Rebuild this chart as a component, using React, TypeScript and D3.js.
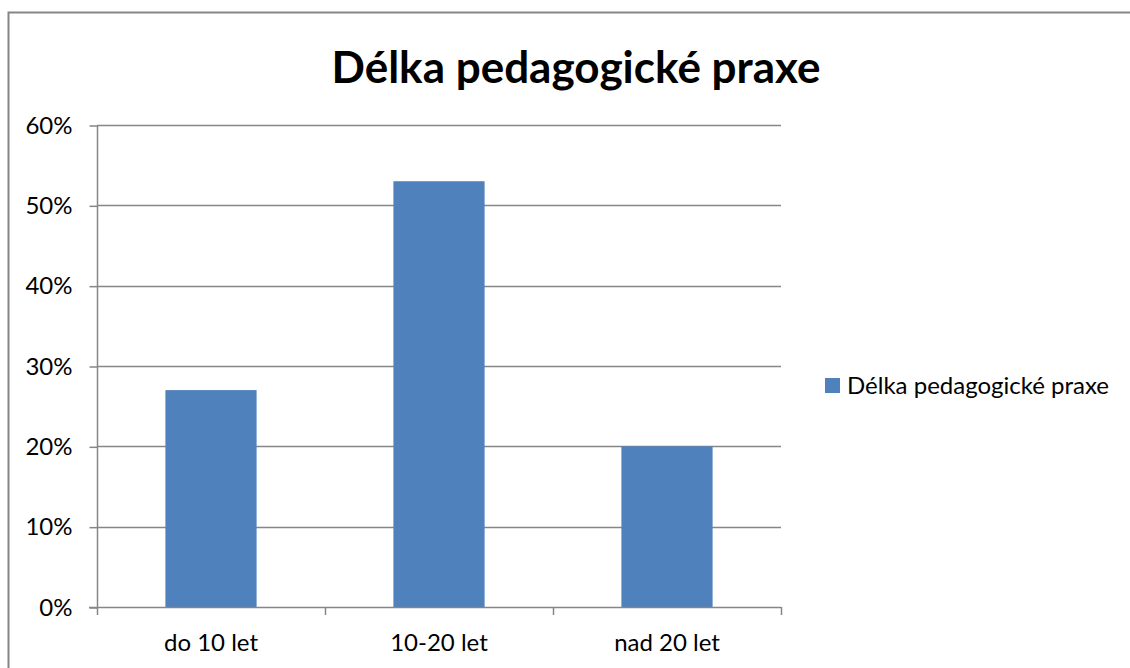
import React, { useEffect, useRef } from 'react';
import * as d3 from 'd3';

const categories = ['do 10 let', '10-20 let', 'nad 20 let'];
const values = [0.27, 0.53, 0.2];
const yTicks = [0, 0.1, 0.2, 0.3, 0.4, 0.5, 0.6];
const title = 'Délka pedagogické praxe';
const seriesName = 'Délka pedagogické praxe';

const W = 1130;
const H = 668;
const FONT = 'Lato, "Open Sans", sans-serif';

const App = () => {
  const svgRef = useRef<SVGSVGElement>(null);

  useEffect(() => {
    const svg = d3.select(svgRef.current);
    svg.selectAll('*').remove();

    // outer chart border
    svg.append('rect')
      .attr('x', 8.5).attr('y', 12.5)
      .attr('width', W).attr('height', H)
      .attr('fill', 'white')
      .attr('stroke', '#868686').attr('stroke-width', 2);

    const x = d3.scaleBand().domain(categories).range([97, 781]).paddingInner(0.6).paddingOuter(0.3);
    const y = d3.scaleLinear().domain([0, 0.6]).range([607, 125]);

    const g = svg.append('g');

    // gridlines
    g.selectAll('.grid')
      .data(yTicks.slice(1))
      .enter().append('line')
      .attr('x1', 97).attr('x2', 781)
      .attr('y1', d => Math.round(y(d)) + 0.5).attr('y2', d => Math.round(y(d)) + 0.5)
      .attr('stroke', '#868686').attr('stroke-width', 1.5);

    // bars
    g.selectAll('.bar')
      .data(values)
      .enter().append('rect')
      .attr('x', (d, i) => x(categories[i])!)
      .attr('width', x.bandwidth())
      .attr('y', d => y(d))
      .attr('height', d => y(0) - y(d))
      .attr('fill', '#4F81BD');

    // y axis
    const yAxis = d3.axisLeft(y).tickValues(yTicks).tickFormat(d => `${Math.round(+d * 100)}%`).tickSize(8).tickPadding(17);
    const ya = g.append('g').attr('transform', 'translate(97.5,0.5)').call(yAxis);
    ya.selectAll('path, line').attr('stroke', '#868686').attr('stroke-width', 1.5);
    ya.select('.domain').attr('d', `M0,${y(0.6)}V${y(0)}`);
    ya.selectAll('text').attr('font-family', FONT).attr('font-size', 24).attr('fill', '#000');

    // x axis
    const xTickPos = [97, 325, 553, 781];
    const xa = g.append('g');
    xa.append('line')
      .attr('x1', 89).attr('x2', 781)
      .attr('y1', 607.5).attr('y2', 607.5)
      .attr('stroke', '#868686').attr('stroke-width', 1.5);
    xa.selectAll('.xt')
      .data(xTickPos)
      .enter().append('line')
      .attr('x1', d => d + 0.5).attr('x2', d => d + 0.5)
      .attr('y1', 607).attr('y2', 615)
      .attr('stroke', '#868686').attr('stroke-width', 1.5);
    xa.selectAll('.xl')
      .data(categories)
      .enter().append('text')
      .attr('x', d => x(d)! + x.bandwidth() / 2)
      .attr('y', 651)
      .attr('text-anchor', 'middle')
      .attr('font-family', FONT).attr('font-size', 24)
      .text(d => d);

    // title
    svg.append('text')
      .attr('x', 576).attr('y', 83)
      .attr('text-anchor', 'middle')
      .attr('font-family', FONT).attr('font-weight', 'bold').attr('font-size', 44)
      .text(title);

    // legend
    svg.append('rect')
      .attr('x', 825).attr('y', 378).attr('width', 15).attr('height', 15)
      .attr('fill', '#4F81BD');
    svg.append('text')
      .attr('x', 847).attr('y', 394)
      .attr('font-family', FONT).attr('font-size', 24)
      .text(seriesName);
  }, []);

  return (
    <svg ref={svgRef} width={W} height={H} style={{ position: 'absolute', left: 0, top: 0 }}></svg>
  );
};

export default App;
